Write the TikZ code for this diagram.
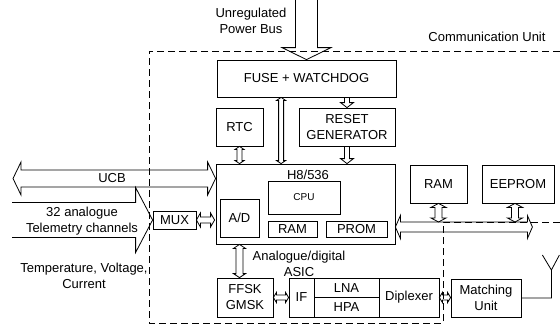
\documentclass[tikz,border=0pt]{standalone}
\usepackage{fontspec}
\setmainfont{Liberation Sans}
\usetikzlibrary{calc}

% hollow block arrow, open tail at #1, head at #2
% #3 shaft half width, #4 head half width, #5 head length
\newcommand\blkarrow[5]{%
  \coordinate (ba2) at ($(#2)!#5!(#1)$);
  \draw[blk] ($(#1)!#3!-90:(#2)$) -- ($(ba2)!#3!90:(#1)$) -- ($(ba2)!#4!90:(#1)$)
    -- (#2) -- ($(ba2)!#4!-90:(#1)$) -- ($(ba2)!#3!-90:(#1)$) -- ($(#1)!#3!90:(#2)$);
}
% hollow block arrow with heads at both ends
\newcommand\blkarrowboth[5]{%
  \coordinate (ba1) at ($(#1)!#5!(#2)$);
  \coordinate (ba2) at ($(#2)!#5!(#1)$);
  \draw[blk] (#1) -- ($(ba1)!#4!90:(#2)$) -- ($(ba1)!#3!90:(#2)$)
    -- ($(ba2)!#3!-90:(#1)$) -- ($(ba2)!#4!-90:(#1)$) -- (#2)
    -- ($(ba2)!#4!90:(#1)$) -- ($(ba2)!#3!90:(#1)$)
    -- ($(ba1)!#3!-90:(#2)$) -- ($(ba1)!#4!-90:(#2)$) -- cycle;
}

\tikzset{
  txt/.style={font=\fontsize{13}{16}\selectfont},
  box/.style={draw, txt, inner sep=0pt, align=center},
  lbl/.style={txt, inner sep=0pt, align=center},
  blk/.style={draw, line width=0.8pt, line join=miter},
  boundary/.style={line width=0.8pt, dash pattern=on 7pt off 4pt},
}

\begin{document}
\begin{tikzpicture}[x=1pt, y=-1pt, line width=0.8pt]
\useasboundingbox (0,0) rectangle (560,327);

% unit boundary
\draw[boundary] (560,51) -- (149,51) -- (149,323) -- (443,323) -- (443,222) -- (560,222);

% blocks
\node[box, minimum width=179pt, minimum height=37pt] (fuse) at (306.5,78.5) {FUSE + WATCHDOG};
\node[box, minimum width=47pt, minimum height=38pt] (rtc) at (239.5,127) {RTC};
\node[box, minimum width=96pt, minimum height=38pt] (reset) at (347,127) {RESET\\GENERATOR};
\node[box, minimum width=179pt, minimum height=80pt] (h8) at (305.5,204) {};
\node[lbl] (h8lbl) at (308,175) {H8/536};
\node[box, minimum width=72pt, minimum height=33pt, font=\fontsize{10}{12}\selectfont] (cpu) at (304,197.5) {CPU};
\node[box, minimum width=49pt, minimum height=16pt] (ramint) at (292.5,229) {RAM};
\node[box, minimum width=61pt, minimum height=16pt] (prom) at (356.5,229) {PROM};
\node[box, minimum width=39pt, minimum height=38pt] (ad) at (239.5,218) {A/D};
\node[box, minimum width=43pt, minimum height=18pt] (mux) at (174.5,220) {MUX};
\node[box, minimum width=57pt, minimum height=38pt] (ramext) at (438.5,184) {RAM};
\node[box, minimum width=72pt, minimum height=38pt] (eeprom) at (518,184) {EEPROM};
\node[box, minimum width=56pt, minimum height=39pt] (ffsk) at (245,297.5) {FFSK\\GMSK};
\node[box, minimum width=25pt, minimum height=39pt] (ifb) at (301.5,297.5) {IF};
\node[box, minimum width=65pt, minimum height=19.5pt] (lna) at (346.5,287.75) {LNA};
\node[box, minimum width=65pt, minimum height=19.5pt] (hpa) at (346.5,307.25) {HPA};
\node[box, minimum width=60pt, minimum height=39pt] (dip) at (409,297.5) {Diplexer};
\node[box, minimum width=70pt, minimum height=38pt] (match) at (486,298) {Matching\\Unit};

% labels
\node[lbl] (pwrlbl) at (251,21) {Unregulated\\Power Bus};
\node[lbl] (unitlbl) at (487,37) {Communication Unit};
\node[lbl] (asiclbl) at (299,263.5) {Analogue/digital\\ASIC};
\node[lbl] (tellbl) at (82,221) {32 analogue\\Telemetry channels};
\node[lbl] (senslbl) at (84,276) {Temperature, Voltage,\\Current};

% power bus
\coordinate (pwrtop) at ($(fuse.north)+(0,-60)$);
\blkarrow{pwrtop}{fuse.north}{11pt}{24.5pt}{12pt}

% watchdog / reset chain
\coordinate (fr1) at (reset.north |- fuse.south);
\blkarrow{fr1}{reset.north}{2.5pt}{6.5pt}{5pt}
\coordinate (rh1) at (reset.south |- h8.north);
\blkarrow{reset.south}{rh1}{2.5pt}{6.5pt}{5pt}
\coordinate (fh1) at ($(fuse.south west)+(64.5,0)$);
\coordinate (fh2) at (fh1 |- h8.north);
\blkarrowboth{fh1}{fh2}{2.5pt}{4.5pt}{3pt}
\coordinate (rt1) at (rtc.south |- h8.north);
\blkarrowboth{rtc.south}{rt1}{2.5pt}{4.5pt}{3pt}

% UCB
\coordinate (ucbL) at (13,178.5);
\coordinate (ucbR) at (h8.west |- ucbL);
\blkarrowboth{ucbL}{ucbR}{8.5pt}{16.5pt}{8pt}
\node[lbl] (ucblbl) at (112,178) {UCB};

% telemetry inputs
\coordinate (telL) at (12,220);
\blkarrow{telL}{mux.west}{17.5pt}{32.5pt}{17pt}
\coordinate (ma2) at ($(h8.west |- mux.east)+(-1,0)$);
\blkarrowboth{mux.east}{ma2}{3pt}{7pt}{4pt}

% ASIC chain
\coordinate (hf1) at (ad.south |- h8.south);
\coordinate (hf2) at (ad.south |- ffsk.north);
\blkarrowboth{hf1}{hf2}{3.5pt}{6pt}{4pt}
\blkarrowboth{ffsk.east}{ifb.west}{2.5pt}{5pt}{3pt}
\coordinate (dm2) at (match.west |- dip.east);
\blkarrowboth{dip.east}{dm2}{2.5pt}{5pt}{3pt}

% external memory bus
\coordinate (busL) at ($(h8.east)+(0,23)$);
\coordinate (busR) at ($(busL)+(137,0)$);
\blkarrowboth{busL}{busR}{5pt}{11.5pt}{5pt}
\coordinate (rb2) at ($(ramext.south |- busL)+(0,-5)$);
\blkarrowboth{ramext.south}{rb2}{3.5pt}{7.5pt}{4pt}
\coordinate (eb1) at ($(eeprom.south)+(-3,0)$);
\coordinate (eb2) at ($(eb1 |- busL)+(0,-5)$);
\blkarrowboth{eb1}{eb2}{3.5pt}{7.5pt}{4pt}

% antenna
\coordinate (ant) at ($(match.east)+(30,0)$);
\coordinate (antTop) at ($(ant)+(0,-28)$);
\draw (match.east) -- (ant) -- (antTop) -- +(-9,-15) (antTop) -- +(8,-15);
\end{tikzpicture}
\end{document}
